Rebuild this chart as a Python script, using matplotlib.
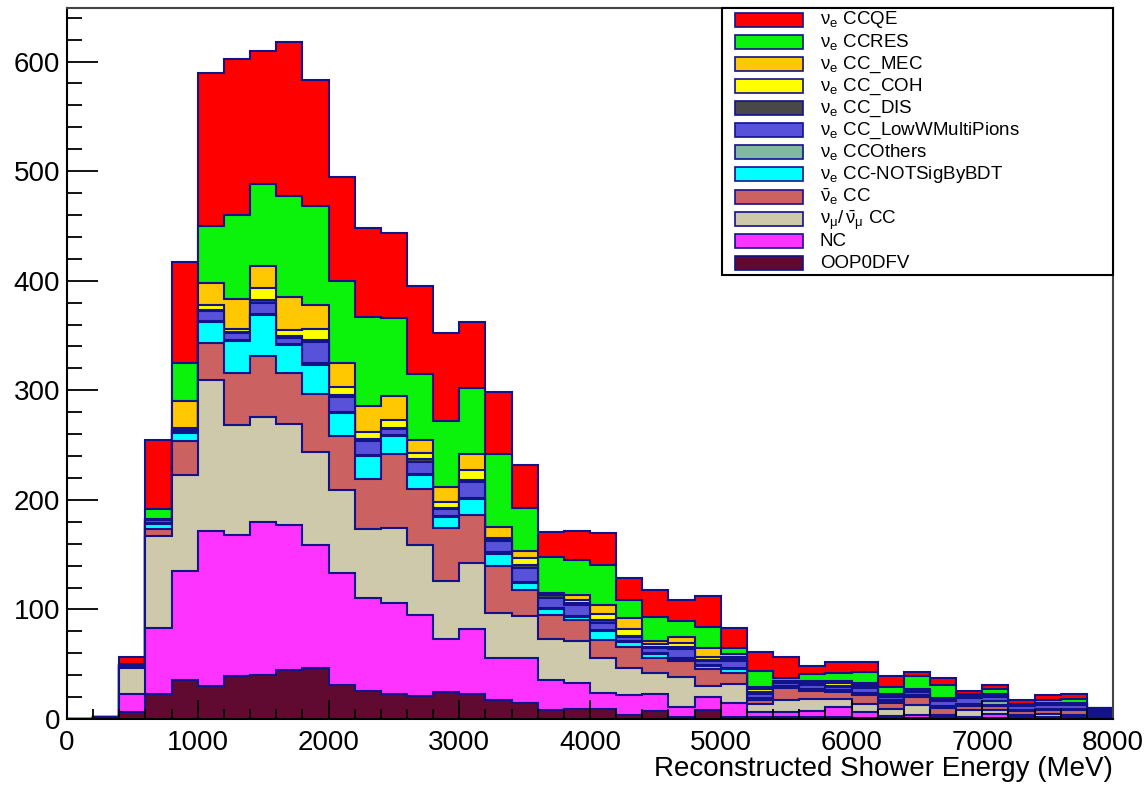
import numpy as np
import matplotlib
matplotlib.use("Agg")
import matplotlib.pyplot as plt
from matplotlib.patches import Rectangle
from matplotlib.ticker import MultipleLocator

plt.rcParams['font.family'] = 'Liberation Sans'
plt.rcParams['mathtext.fontset'] = 'custom'
plt.rcParams['mathtext.rm'] = 'Liberation Sans'
plt.rcParams['mathtext.it'] = 'Liberation Sans:italic'
plt.rcParams['mathtext.bf'] = 'Liberation Sans:bold'

# 40 bins of 200 MeV, 0 - 8000 MeV
edges = np.arange(0, 8001, 200)

# stack components, bottom to top
oop    = [0, 1, 6, 23, 36, 30, 39, 40, 45, 47, 31, 26, 23, 21, 25, 23, 17, 15, 8, 9,
          9, 4, 7, 2, 8, 2, 2, 2, 1.5, 1.5, 1, 1, 1, 1, 1, 1, 1, 1, 1, 1]
nc     = [0, 0.5, 17, 60, 99, 142, 129, 140, 132, 112, 102, 84, 83, 74, 48, 59, 39, 41, 28, 24,
          15, 18, 16, 9, 12, 13, 4, 4, 6, 9, 5, 2, 3, 1, 1, 4, 1, 1, 1, 1]
numu   = [0, 0.5, 24, 84, 88, 137, 100, 96, 92, 85, 76, 63, 68, 64, 53, 60, 41, 38, 37, 38,
          32, 25, 19, 27, 10, 17, 8, 11, 11, 8, 8, 6, 9, 2, 6, 3, 2, 3, 2, 1.5]
nuebar = [0, 0, 1, 6, 31, 34, 48, 55, 47, 53, 49, 46, 68, 51, 48, 44, 43, 24, 22, 19,
          16, 19, 14, 15, 16, 10, 3, 11, 7, 6, 8, 6, 7, 6, 4, 4, 3, 3, 4, 1.5]
notsig = [0, 0, 0.5, 5, 7, 19, 29, 38, 25, 26, 21, 21, 16, 13, 10, 15, 11, 6, 5, 3,
          8, 4, 3, 2, 2, 4, 1, 1, 1, 1, 1, 1, 1, 1, 1, 1, 0.5, 0.5, 0.5, 0.5]
others = [0, 0, 0, 0.5, 0.5, 1, 1, 1, 1, 2, 1, 1, 1, 1, 1, 1, 1, 1, 1, 1,
          1, 1, 1, 1, 1, 1, 1, 1, 0.5, 1, 1, 1, 1, 1, 1, 3, 1, 1, 1, 0.5]
lowpi  = [0, 0, 1, 3, 2, 9, 6, 10, 6, 19, 14, 13, 6, 11, 7, 14, 10, 13, 9, 10,
          7, 4, 5, 8, 4, 6, 4, 3, 4, 3, 4, 3, 3, 4, 5, 4, 3, 3, 3, 2]
dis    = [0, 0, 0, 0.5, 1, 1, 1, 2, 2, 2, 2, 2, 1, 2, 1, 2, 1, 3, 3, 2,
          2, 1, 1, 2, 1, 2, 2, 1, 1, 1, 2, 1, 1, 2, 2, 2, 1, 1, 1, 1]
coh    = [0, 0, 0, 0, 1.5, 5, 3, 11, 5, 10, 7, 6, 7, 6, 5, 9, 2, 6, 1, 3,
          6, 6, 2, 3, 3, 2, 2, 0.5, 1, 2, 1, 0.5, 0.5, 0.5, 0.5, 0.5, 0.5, 0.5, 0.5, 0.3]
mec    = [0, 0, 0, 0.5, 24, 20, 27, 20, 30, 22, 22, 24, 22, 12, 14, 15, 10, 6, 1, 4,
          8, 10, 3, 6, 8, 2, 2, 0.5, 2, 2.5, 2, 1, 0.5, 0.5, 0.5, 0.5, 0.5, 0.5, 0.5, 0.3]
res    = [0, 0, 0.5, 9.5, 35, 52, 77, 75, 92, 90, 75, 81, 71, 60, 60, 60, 67, 40, 33, 32,
          37, 17, 22, 14, 19, 6, 15, 2, 6, 7, 10, 7, 12, 12, 1, 4, 0.5, 3, 3.5, 0.2]
qe     = [0, 0, 7, 63, 92, 140, 142, 122, 141, 115, 95, 81, 78, 80, 80, 60, 56, 39, 23, 27,
          29, 20, 25, 20, 28, 18, 17, 20, 7, 10, 9, 10, 4, 6, 3, 4, 3, 4.5, 5, 0.2]

layers = [oop, nc, numu, nuebar, notsig, others, lowpi, dis, coh, mec, res, qe]
colors = ['#600a32', '#ff33ff', '#cdc9aa', '#cc6161', '#00ffff', '#7fbaa0',
          '#5752d9', '#484848', '#ffff00', '#ffc800', '#0bf20b', '#ff0000']
nue = r'$\mathrm{\nu_{e}}$'
labels = ['OOP0DFV', 'NC', r'$\mathrm{\nu_{\mu}/\,\bar{\nu}_{\mu}}$ CC', r'$\mathrm{\bar{\nu}_{e}}$ CC',
          nue + ' CC-NOTSigByBDT', nue + ' CCOthers', nue + ' CC_LowWMultiPions',
          nue + ' CC_DIS', nue + ' CC_COH', nue + ' CC_MEC', nue + ' CCRES', nue + ' CCQE']
line = '#12128a'

W, H = 1147, 788
fig = plt.figure(figsize=(W / 100, H / 100), dpi=100)
ax = fig.add_axes([67 / W, 69 / H, 1046 / W, 711 / H])

cum = np.cumsum(np.array(layers, dtype=float), axis=0)
for k in range(len(layers) - 1, -1, -1):
    ax.stairs(cum[k], edges, baseline=0, fill=True, facecolor=colors[k],
              edgecolor=line, linewidth=1.5)

ax.set_xlim(0, 8000)
ax.set_ylim(0, 1.05 * cum[-1].max())
ax.xaxis.set_major_locator(MultipleLocator(1000))
ax.xaxis.set_minor_locator(MultipleLocator(200))
ax.yaxis.set_major_locator(MultipleLocator(100))
ax.yaxis.set_minor_locator(MultipleLocator(20))
ax.tick_params(axis='y', which='major', direction='in', length=22, width=1.3, labelsize=20, pad=5)
ax.tick_params(axis='y', which='minor', direction='in', length=11, width=1.3)
ax.tick_params(axis='x', which='major', direction='in', length=14, width=1.3, labelsize=20, pad=8)
ax.tick_params(axis='x', which='minor', direction='in', length=7, width=1.3)
for s in ax.spines.values():
    s.set_linewidth(1.5)
ax.spines['top'].set_color('#444444')
ax.spines['right'].set_color('#444444')

ax.set_xlabel('Reconstructed Shower Energy (MeV)', fontsize=20, loc='right')
ax.xaxis.set_label_coords(1.0, -0.052)

# legend box, ROOT style
tf = fig.transFigure
fig.patches.append(Rectangle((722 / W, 1 - 275 / H), 391 / W, 267 / H, transform=tf,
                             facecolor='white', edgecolor='black', linewidth=1.5, zorder=5))
for i, k in enumerate(range(len(layers) - 1, -1, -1)):
    yc = 19.5 + 22.14 * i
    fig.patches.append(Rectangle((735 / W, 1 - (yc + 7) / H), 68 / W, 14 / H, transform=tf,
                                 facecolor=colors[k], edgecolor=line, linewidth=1.2, zorder=6))
    fig.text(820 / W, 1 - (yc + 5) / H, labels[k], fontsize=13.5, va='baseline',
             ha='left', zorder=7)

fig.savefig('out.png', dpi=100)
